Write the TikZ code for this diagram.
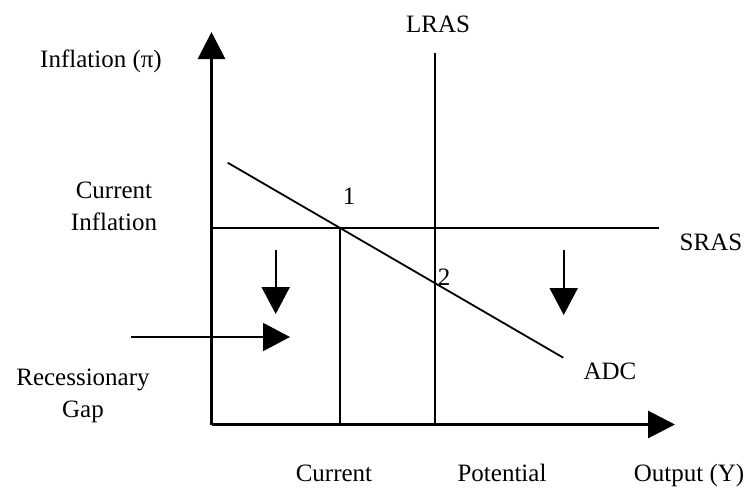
\documentclass[tikz,border=0pt]{standalone}
\usepackage{fontspec}
\setmainfont{Liberation Serif}
\usetikzlibrary{arrows.meta}
\begin{document}
\begin{tikzpicture}[x=1pt,y=-1pt,
  axisline/.style={line width=3pt, -{Triangle[length=27pt,width=27pt]}},
  shiftarrow/.style={line width=2pt, -{Triangle[length=27pt,width=28pt]}},
  curveline/.style={line width=1.8pt},
  lbl/.style={font=\fontsize{25}{32}\selectfont, inner sep=0pt, anchor=base, align=center}]
\useasboundingbox (0,0) rectangle (747,491);
% key points
\coordinate (O) at (211.5,424.5);
\coordinate (ytop) at (211.5,32);
\coordinate (xend) at (675,424.5);
\coordinate (lrasT) at (435,53);
\coordinate (lrasB) at (435,424.5);
\coordinate (srasL) at (211.5,228);
\coordinate (srasR) at (659,228);
\coordinate (curT) at (340,228);
\coordinate (curB) at (340,424.5);
\coordinate (adcA) at (227.7,162.7);
\coordinate (adcB) at (563.3,357.7);
\coordinate (d1a) at (275.7,250);
\coordinate (d1b) at (275.7,314);
\coordinate (d2a) at (563.7,250);
\coordinate (d2b) at (563.7,315);
\coordinate (ra) at (131,337);
\coordinate (rb) at (290,337);
% curves
\draw[curveline] (lrasT) -- (lrasB);
\draw[curveline] (srasL) -- (srasR);
\draw[curveline] (curT) -- (curB);
\draw[curveline] (adcA) -- (adcB);
% axes
\draw[axisline] (O) -- (ytop);
\draw[axisline] (O) -- (xend);
% shift arrows
\draw[shiftarrow] (d1a) -- (d1b);
\draw[shiftarrow] (d2a) -- (d2b);
\draw[shiftarrow] (ra) -- (rb);
% labels
\node[lbl] (ylab) at (101,67) {Inflation (π)};
\node[lbl] (curinf) at (114,230) {Current\\Inflation};
\node[lbl] (lras) at (438,32) {LRAS};
\node[lbl] (p1) at (349,204) {1};
\node[lbl] (p2) at (444,285) {2};
\node[lbl] (sras) at (711,250) {SRAS};
\node[lbl] (adc) at (610,379) {ADC};
\node[lbl] (rgap) at (83,417) {Recessionary\\Gap};
\node[lbl] (xcur) at (334,481) {Current};
\node[lbl] (xpot) at (502,481) {Potential};
\node[lbl] (xlab) at (689,481) {Output (Y)};
\end{tikzpicture}
\end{document}
